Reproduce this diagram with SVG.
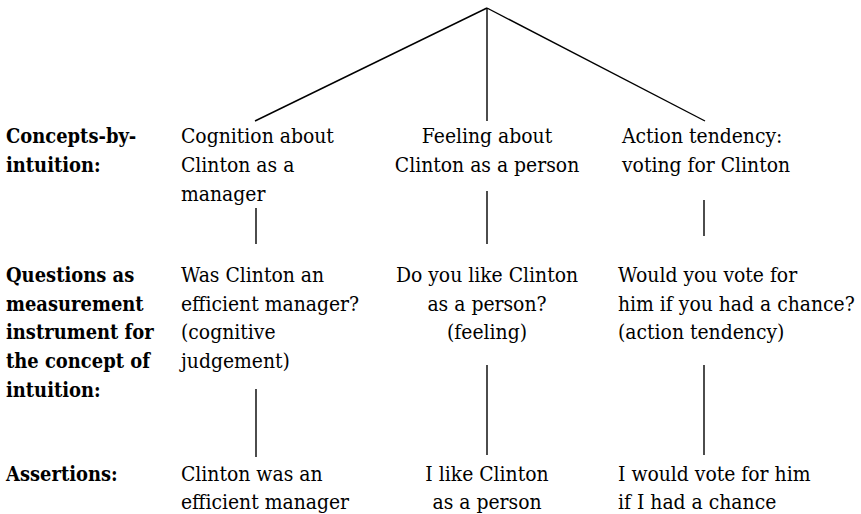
<svg xmlns="http://www.w3.org/2000/svg" width="861" height="514" viewBox="0 0 861 514">
  <style>
    text { font-family: "DejaVu Serif", "Liberation Serif", serif; font-size: 21px; fill: #000; }
    .head text { font-weight: bold; }
    .mid text { text-anchor: middle; }
    .edge { stroke: #000; stroke-width: 1.4; fill: none; }
  </style>
  <rect width="861" height="514" fill="#fff"/>

  <!-- connectors -->
  <g id="connectors">
    <line class="edge" x1="487" y1="8" x2="255" y2="121"/>
    <line class="edge" x1="487" y1="8" x2="487" y2="121"/>
    <line class="edge" x1="487" y1="8" x2="705" y2="121"/>
    <line class="edge" x1="256" y1="208" x2="256" y2="244"/>
    <line class="edge" x1="487" y1="191" x2="487" y2="244"/>
    <line class="edge" x1="704" y1="200" x2="704" y2="236"/>
    <line class="edge" x1="256" y1="389" x2="256" y2="457"/>
    <line class="edge" x1="487" y1="365" x2="487" y2="455"/>
    <line class="edge" x1="704" y1="365" x2="704" y2="455"/>
  </g>

  <!-- row headings (bold, narrowed to a Times-like width) -->
  <g id="label-concepts" class="head" transform="translate(6 0) scale(0.854 1)">
    <text x="0" y="143">Concepts-by-</text>
    <text x="0" y="172">intuition:</text>
  </g>
  <g id="label-questions" class="head" transform="translate(6 0) scale(0.854 1)">
    <text x="0" y="282">Questions as</text>
    <text x="0" y="311">measurement</text>
    <text x="0" y="339">instrument for</text>
    <text x="0" y="368">the concept of</text>
    <text x="0" y="397">intuition:</text>
  </g>
  <g id="label-assertions" class="head" transform="translate(6 0) scale(0.854 1)">
    <text x="0" y="481">Assertions:</text>
  </g>

  <!-- concepts-by-intuition -->
  <g id="concept-cognition" transform="translate(181 0) scale(0.895 1)">
    <text x="0" y="143">Cognition about</text>
    <text x="0" y="172">Clinton as a</text>
    <text x="0" y="201">manager</text>
  </g>
  <g id="concept-feeling" class="mid" transform="translate(487 0) scale(0.895 1)">
    <text x="0" y="143">Feeling about</text>
    <text x="0" y="172">Clinton as a person</text>
  </g>
  <g id="concept-action" transform="translate(622 0) scale(0.895 1)">
    <text x="0" y="143">Action tendency:</text>
    <text x="0" y="172">voting for Clinton</text>
  </g>

  <!-- questions -->
  <g id="question-cognition" transform="translate(181 0) scale(0.895 1)">
    <text x="0" y="282">Was Clinton an</text>
    <text x="0" y="311">efficient manager?</text>
    <text x="0" y="339">(cognitive</text>
    <text x="0" y="368">judgement)</text>
  </g>
  <g id="question-feeling" class="mid" transform="translate(487 0) scale(0.895 1)">
    <text x="0" y="282">Do you like Clinton</text>
    <text x="0" y="311">as a person?</text>
    <text x="0" y="339">(feeling)</text>
  </g>
  <g id="question-action" transform="translate(618 0) scale(0.895 1)">
    <text x="0" y="282">Would you vote for</text>
    <text x="0" y="311">him if you had a chance?</text>
    <text x="0" y="339">(action tendency)</text>
  </g>

  <!-- assertions -->
  <g id="assertion-cognition" transform="translate(181 0) scale(0.895 1)">
    <text x="0" y="481">Clinton was an</text>
    <text x="0" y="509">efficient manager</text>
  </g>
  <g id="assertion-feeling" class="mid" transform="translate(487 0) scale(0.895 1)">
    <text x="0" y="481">I like Clinton</text>
    <text x="0" y="509">as a person</text>
  </g>
  <g id="assertion-action" transform="translate(618 0) scale(0.895 1)">
    <text x="0" y="481">I would vote for him</text>
    <text x="0" y="509">if I had a chance</text>
  </g>
</svg>
